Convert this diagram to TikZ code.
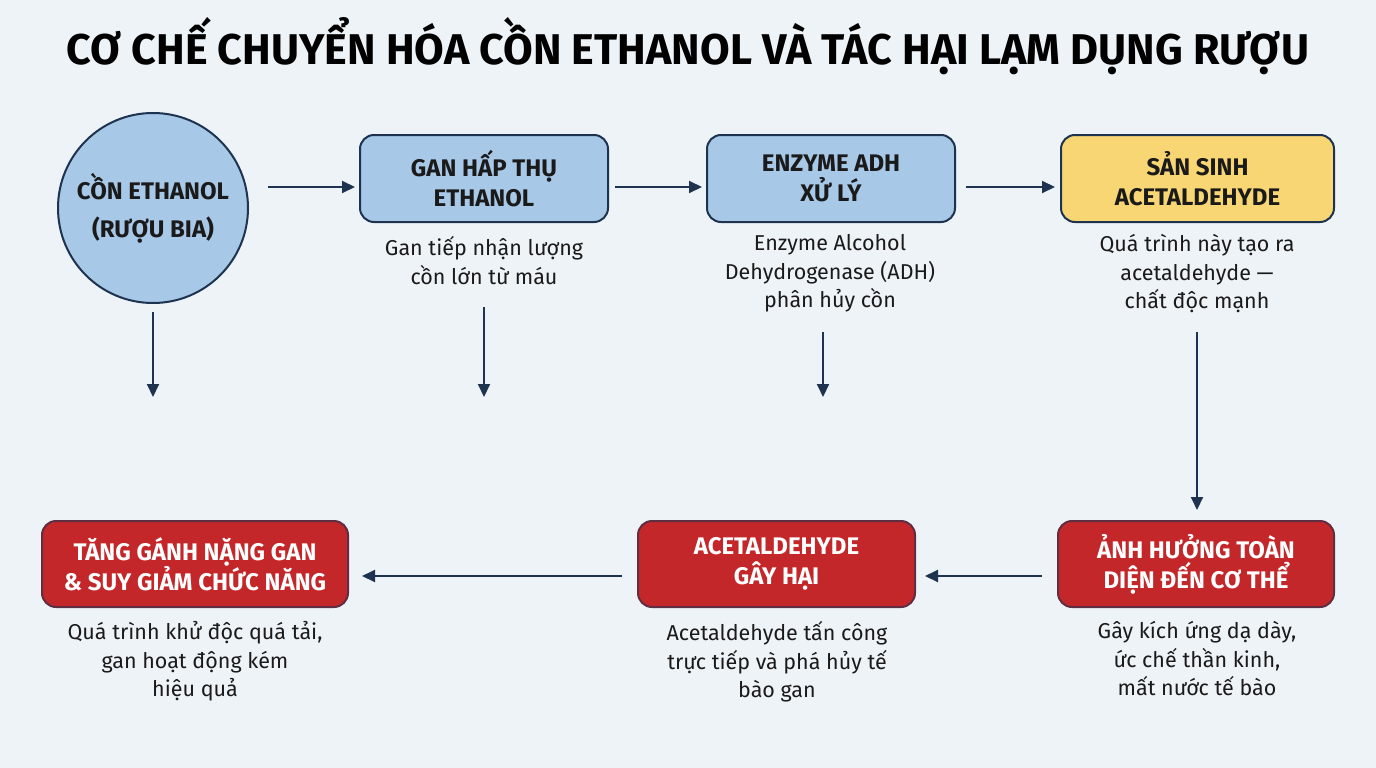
\documentclass[tikz,border=0pt]{standalone}
\usepackage{fontspec}
\setmainfont{Fira Sans}
\usetikzlibrary{arrows.meta}
\definecolor{bg}{HTML}{EEF3F8}
\definecolor{navy}{HTML}{1E3350}
\definecolor{lblue}{HTML}{A8C8E8}
\definecolor{ylw}{HTML}{F8D674}
\definecolor{rd}{HTML}{C4272A}
\definecolor{txt}{HTML}{1A1A1A}
\begin{document}
\begin{tikzpicture}[x=1pt,y=-1pt,
  box/.style={draw=navy,line width=2pt,rounded corners=14pt,align=center,font=\fontsize{24}{30}\selectfont\bfseries,text=txt,inner sep=0pt},
  blue/.style={box,fill=lblue},
  yel/.style={box,fill=ylw},
  red/.style={box,fill=rd,text=white,draw=navy!60!rd},
  desc/.style={align=center,font=\fontsize{21.5}{28.5}\selectfont,text=txt},
  arr/.style={draw=navy,line width=2pt,-{Triangle[length=13pt,width=12pt]}}]
\fill[bg] (0,0) rectangle (1376,768);
\node[font=\fontsize{43}{48}\selectfont\bfseries,text=black] (title) at (688,46) {CƠ CHẾ CHUYỂN HÓA CỒN ETHANOL VÀ TÁC HẠI LẠM DỤNG RƯỢU};
\node[circle,draw=navy,line width=2pt,fill=lblue,minimum size=190pt,align=center,font=\fontsize{24}{38}\selectfont\bfseries,text=txt] (c) at (153,208) {CỒN ETHANOL\\(RƯỢU BIA)};
\node[blue,minimum width=248pt,minimum height=87pt] (b1) at (484,178.5) {GAN HẤP THỤ\\ETHANOL};
\node[blue,minimum width=248pt,minimum height=87pt] (b2) at (831,178.5) {ENZYME ADH\\XỬ LÝ};
\node[yel,minimum width=273pt,minimum height=87pt] (b3) at (1197.5,178.5) {SẢN SINH\\ACETALDEHYDE};
\node[red,minimum width=306pt,minimum height=86pt] (rA) at (195,564) {TĂNG GÁNH NẶNG GAN\\\& SUY GIẢM CHỨC NĂNG};
\node[red,minimum width=277pt,minimum height=86pt] (rB) at (776.5,564) {ACETALDEHYDE\\GÂY HẠI};
\node[red,minimum width=276pt,minimum height=86pt] (rC) at (1196,564) {ẢNH HƯỞNG TOÀN\\DIỆN ĐẾN CƠ THỂ};
\node[desc,anchor=north] (d1) at (484,233) {Gan tiếp nhận lượng\\cồn lớn từ máu};
\node[desc,anchor=north] (d2) at (830,231) {Enzyme Alcohol\\Dehydrogenase (ADH)\\phân hủy cồn};
\node[desc,anchor=north] (d3) at (1197,231) {Quá trình này tạo ra\\acetaldehyde —\\chất độc mạnh};
\node[desc,anchor=north] (dA) at (195,618) {Quá trình khử độc quá tải,\\gan hoạt động kém\\hiệu quả};
\node[desc,anchor=north] (dB) at (777,618) {Acetaldehyde tấn công\\trực tiếp và phá hủy tế\\bào gan};
\node[desc,anchor=north] (dC) at (1197,618) {Gây kích ứng dạ dày,\\ức chế thần kinh,\\mất nước tế bào};
\coordinate (h1s) at (268,187); \coordinate (h1e) at (355,187);
\coordinate (h2s) at (615,187); \coordinate (h2e) at (702,187);
\coordinate (h3s) at (966,187); \coordinate (h3e) at (1055,187);
\draw[arr] (h1s) -- (h1e); \draw[arr] (h2s) -- (h2e); \draw[arr] (h3s) -- (h3e);
\coordinate (v0s) at (153,312); \coordinate (v0e) at (153,397);
\coordinate (v1s) at (484,307); \coordinate (v1e) at (484,397);
\coordinate (v2s) at (823,332); \coordinate (v2e) at (823,397);
\coordinate (v3s) at (1197,332); \coordinate (v3e) at (1197,510);
\draw[arr] (v0s) -- (v0e); \draw[arr] (v1s) -- (v1e); \draw[arr] (v2s) -- (v2e); \draw[arr] (v3s) -- (v3e);
\coordinate (hBs) at (1042,576); \coordinate (hBe) at (925,576);
\coordinate (hAs) at (622,576); \coordinate (hAe) at (362,576);
\draw[arr] (hBs) -- (hBe); \draw[arr] (hAs) -- (hAe);
\end{tikzpicture}
\end{document}
